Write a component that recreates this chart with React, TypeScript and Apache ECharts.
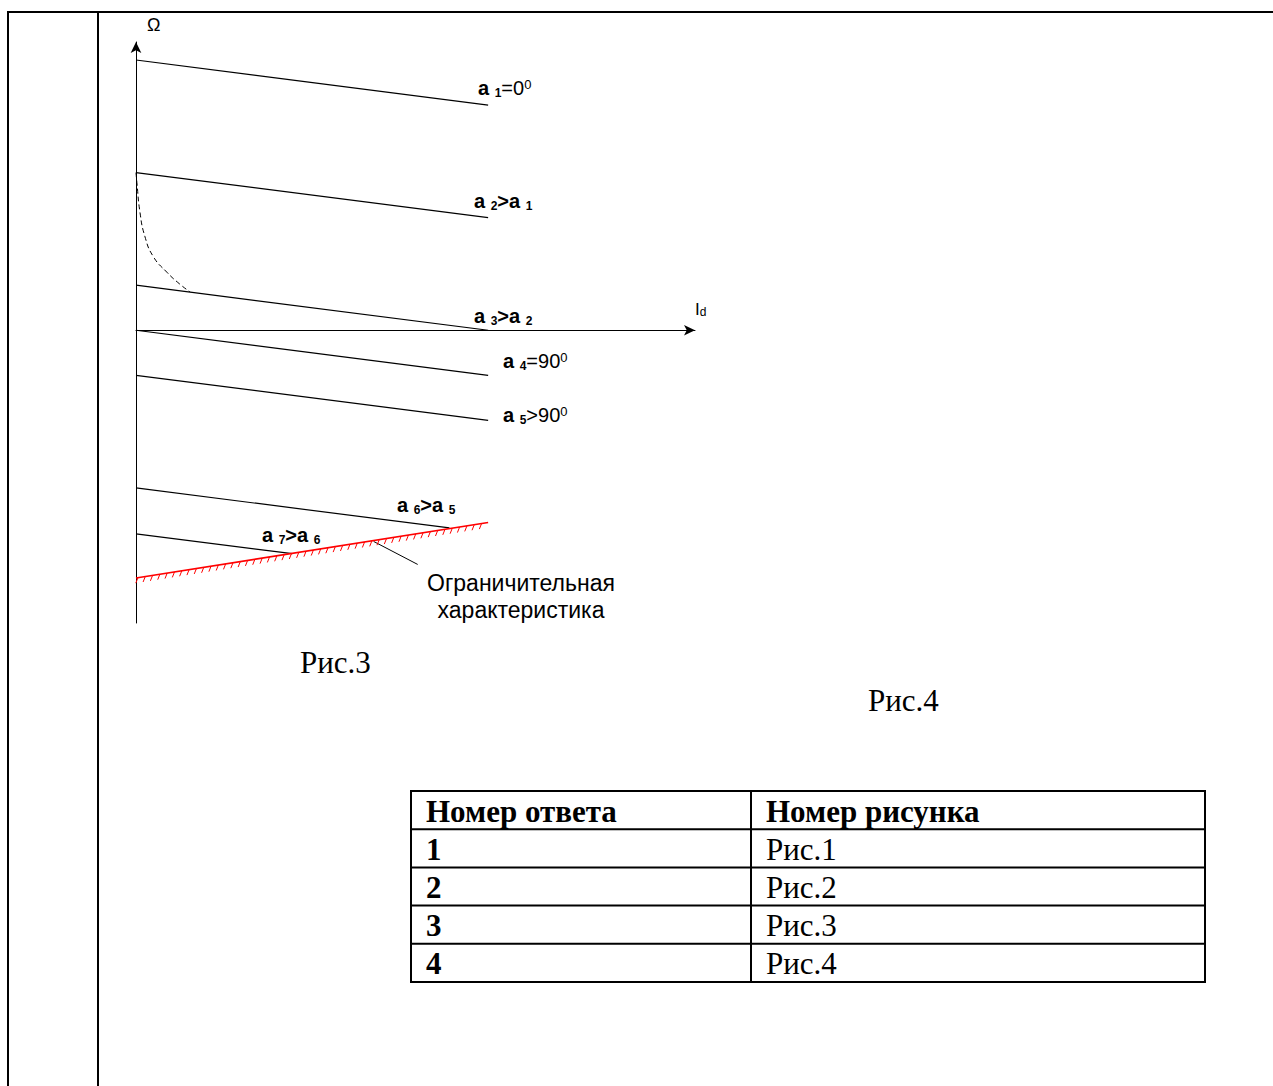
import React, { useEffect, useRef } from "react";
import * as echarts from "echarts";

// ---- data (Id, Omega) ----
const lineStartOmega = [6, 3.5, 1, 0, -1, -3.5, -4.52];
const lineEndId = [8, 8, 8, 8, 8, 7.12, 3.55];
const lineEndOmega = [5, 2.5, 0, -1, -2, -4.39, -4.96];
const limitId = [0, 8];
const limitOmega = [-5.5, -4.27];
const dashedId = [0, 0.02, 0.09, 0.2, 0.39, 0.7, 1.0, 1.23];
const dashedOmega = [3.5, 3.28, 2.62, 2.09, 1.64, 1.29, 1.02, 0.85];
const pointerId = [5.4, 6.4];
const pointerOmega = [-4.69, -5.2];

const tableHead = ["Номер ответа", "Номер рисунка"];
const answerNums = ["1", "2", "3", "4"];
const figureNames = ["Рис.1", "Рис.2", "Рис.3", "Рис.4"];

const SERIF = "'Liberation Serif', 'Times New Roman', serif";
const SANS = "'Liberation Sans', Arial, sans-serif";

const labelRich = {
  a: { fontSize: 20, fontWeight: "bold", fontFamily: SANS, fill: "#000" },
  s: { fontSize: 12, fontWeight: "bold", fontFamily: SANS, fill: "#000", verticalAlign: "bottom", padding: [0, 0, -1, 0] },
  n: { fontSize: 20, fontWeight: "normal", fontFamily: SANS, fill: "#000" },
  p: { fontSize: 13, fontWeight: "normal", fontFamily: SANS, fill: "#000", verticalAlign: "top" },
};

const labelTexts = [
  "{a|a} {s|1}{n|=0}{p|0}",
  "{a|a} {s|2}{a|>a} {s|1}",
  "{a|a} {s|3}{a|>a} {s|2}",
  "{a|a} {s|4}{n|=90}{p|0}",
  "{a|a} {s|5}{n|>90}{p|0}",
  "{a|a} {s|6}{a|>a} {s|5}",
  "{a|a} {s|7}{a|>a} {s|6}",
];
const labelPos = [
  [478, 88],
  [474, 201],
  [474, 316],
  [503, 361],
  [503, 415],
  [397, 505],
  [262, 535],
];

function buildOption() {
  const series: any[] = [];
  lineStartOmega.forEach((y0, i) => {
    series.push({
      type: "line",
      name: "a" + (i + 1),
      data: [
        [0, y0],
        [lineEndId[i], lineEndOmega[i]],
      ],
      symbol: "none",
      lineStyle: { color: "#000", width: 1.2 },
      silent: true,
      z: 3,
    });
  });
  series.push({
    type: "line",
    data: dashedId.map((x, i) => [x, dashedOmega[i]]),
    smooth: true,
    symbol: "none",
    lineStyle: { color: "#000", width: 1, type: [5, 3] },
    silent: true,
  });
  series.push({
    type: "line",
    data: pointerId.map((x, i) => [x, pointerOmega[i]]),
    symbol: "none",
    lineStyle: { color: "#000", width: 1 },
    silent: true,
  });
  series.push({
    type: "custom",
    data: [[limitId[0], limitOmega[0], limitId[1], limitOmega[1]]],
    encode: { x: [0, 2], y: [1, 3] },
    silent: true,
    clip: false,
    z: 4,
    renderItem: (params: any, api: any) => {
      const p0 = api.coord([api.value(0), api.value(1)]);
      const p1 = api.coord([api.value(2), api.value(3)]);
      const children: any[] = [
        {
          type: "line",
          shape: { x1: p0[0], y1: p0[1], x2: p1[0], y2: p1[1] },
          style: { stroke: "#ff0000", lineWidth: 1.6 },
        },
      ];
      const dx = p1[0] - p0[0];
      const dy = p1[1] - p0[1];
      const len = Math.hypot(dx, dy);
      const step = 7.4;
      const n = Math.floor(len / step);
      for (let i = 0; i <= n; i++) {
        const t = (i * step + 2) / len;
        if (t > 1) break;
        const x = p0[0] + dx * t;
        const y = p0[1] + dy * t;
        children.push({
          type: "line",
          shape: { x1: x, y1: y, x2: x - 2.2, y2: y + 5.5 },
          style: { stroke: "#ff0000", lineWidth: 1 },
        });
      }
      return { type: "group", children };
    },
  });

  const g: any[] = [];
  // page frame
  g.push({ type: "line", shape: { x1: 7, y1: 12, x2: 1273, y2: 12 }, style: { stroke: "#000", lineWidth: 2 } });
  g.push({ type: "line", shape: { x1: 8, y1: 11, x2: 8, y2: 1086 }, style: { stroke: "#000", lineWidth: 2 } });
  g.push({ type: "line", shape: { x1: 98, y1: 11, x2: 98, y2: 1086 }, style: { stroke: "#000", lineWidth: 2 } });

  // axis names
  g.push({ type: "text", x: 147, y: 25, style: { text: "Ω", fontSize: 18, fontFamily: SANS, fill: "#000", textVerticalAlign: "middle" } });
  g.push({
    type: "text",
    x: 695,
    y: 309,
    style: {
      text: "{i|I}{d|d}",
      fill: "#000",
      textVerticalAlign: "middle",
      rich: {
        i: { fontSize: 17, fontFamily: SANS, fill: "#000" },
        d: { fontSize: 12, fontFamily: SANS, fill: "#000", verticalAlign: "bottom" },
      },
    },
  });

  // line labels
  labelTexts.forEach((t, i) => {
    g.push({
      type: "text",
      x: labelPos[i][0],
      y: labelPos[i][1],
      style: { text: t, rich: labelRich, fontSize: 20, fontWeight: "bold", fontFamily: SANS, fill: "#000", textVerticalAlign: "middle" },
    });
  });

  // limit characteristic caption
  g.push({ type: "text", x: 521, y: 583, style: { text: "Ограничительная", fontSize: 23, fontFamily: SANS, fill: "#000", textAlign: "center", textVerticalAlign: "middle" } });
  g.push({ type: "text", x: 521, y: 610, style: { text: "характеристика", fontSize: 23, fontFamily: SANS, fill: "#000", textAlign: "center", textVerticalAlign: "middle" } });

  // figure captions
  g.push({ type: "text", x: 300, y: 662, style: { text: "Рис.3", fontSize: 31, fontFamily: SERIF, fill: "#000", textVerticalAlign: "middle" } });
  g.push({ type: "text", x: 868, y: 700, style: { text: "Рис.4", fontSize: 31, fontFamily: SERIF, fill: "#000", textVerticalAlign: "middle" } });

  // table
  const tL = 411, tR = 1205, tC = 751, tT = 791, rowH = 38.2;
  const nRows = 1 + answerNums.length;
  const tB = tT + rowH * nRows;
  g.push({ type: "rect", shape: { x: tL, y: tT, width: tR - tL, height: tB - tT }, style: { fill: "none", stroke: "#000", lineWidth: 2 } });
  g.push({ type: "line", shape: { x1: tC, y1: tT, x2: tC, y2: tB }, style: { stroke: "#000", lineWidth: 2 } });
  for (let r = 1; r < nRows; r++) {
    const y = tT + rowH * r;
    g.push({ type: "line", shape: { x1: tL, y1: y, x2: tR, y2: y }, style: { stroke: "#000", lineWidth: 2 } });
  }
  const rowTexts = [[tableHead[0], tableHead[1]], ...answerNums.map((n, i) => [n, figureNames[i]])];
  rowTexts.forEach((row, r) => {
    const cy = tT + rowH * r + rowH / 2 + 1;
    g.push({ type: "text", x: tL + 15, y: cy, style: { text: row[0], fontSize: 31, fontWeight: "bold", fontFamily: SERIF, fill: "#000", textVerticalAlign: "middle" } });
    g.push({ type: "text", x: tC + 15, y: cy, style: { text: row[1], fontSize: 31, fontWeight: r === 0 ? "bold" : "normal", fontFamily: SERIF, fill: "#000", textVerticalAlign: "middle" } });
  });

  return {
    animation: false,
    backgroundColor: "#fff",
    grid: { left: 136, top: 42, width: 559, height: 581 },
    xAxis: {
      type: "value",
      min: 0,
      max: 12.7,
      axisLine: { show: true, onZero: true, symbol: ["none", "arrow"], symbolSize: [8, 11], lineStyle: { color: "#000", width: 1 } },
      axisTick: { show: false },
      axisLabel: { show: false },
      splitLine: { show: false },
    },
    yAxis: {
      type: "value",
      min: -6.5,
      max: 6.4,
      axisLine: { show: true, onZero: true, symbol: ["none", "arrow"], symbolSize: [8, 11], lineStyle: { color: "#000", width: 1 } },
      axisTick: { show: false },
      axisLabel: { show: false },
      splitLine: { show: false },
    },
    series,
    graphic: { elements: g },
  };
}

export default function App() {
  const ref = useRef<HTMLDivElement>(null);
  useEffect(() => {
    if (!ref.current) return;
    const chart = echarts.init(ref.current, undefined, { renderer: "svg" });
    chart.setOption(buildOption() as any);
    return () => chart.dispose();
  }, []);
  return <div ref={ref} style={{ position: "absolute", left: 0, top: 0, width: 1273, height: 1086, background: "#fff" }} />;
}
